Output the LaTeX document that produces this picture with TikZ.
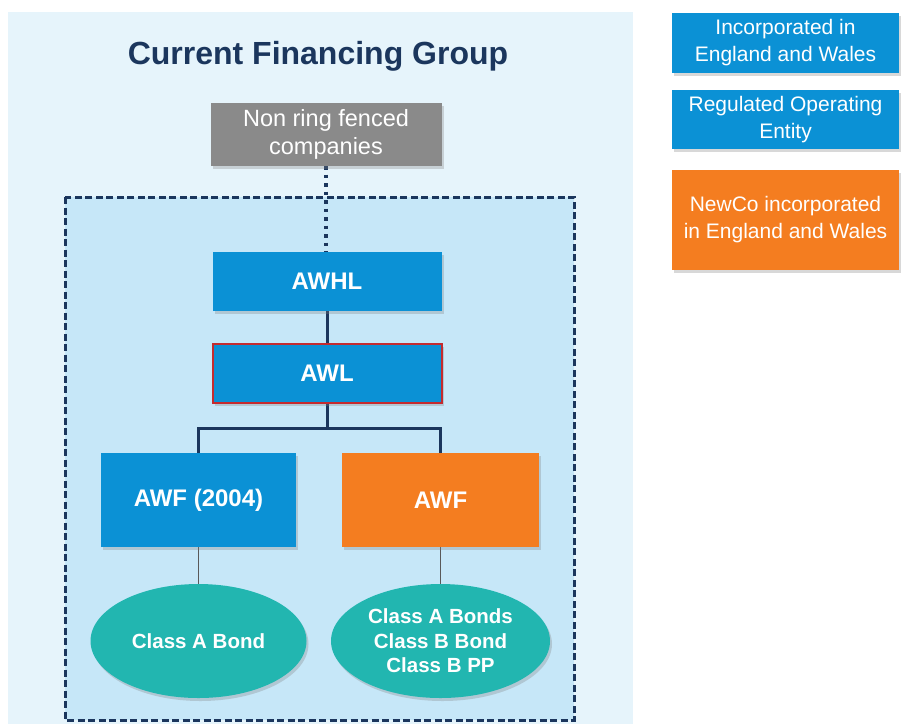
\documentclass[tikz,border=0pt]{standalone}
\usepackage{fontspec}
\setmainfont{Liberation Sans}
\usetikzlibrary{shapes.geometric,shadows}

\definecolor{panelbg}{HTML}{E6F4FB}
\definecolor{ringbg}{HTML}{C6E7F8}
\definecolor{navy}{HTML}{1B365D}
\definecolor{entblue}{HTML}{0B91D5}
\definecolor{neworange}{HTML}{F47D20}
\definecolor{greybox}{HTML}{8A8A8A}
\definecolor{bondteal}{HTML}{22B6B0}
\definecolor{regred}{HTML}{C42B2F}

\pgfdeclarelayer{panels}
\pgfdeclarelayer{links}
\pgfsetlayers{panels,links,main}

\tikzset{
  softshadow/.style={drop shadow={opacity=0.3,shadow xshift=2pt,shadow yshift=-3pt}},
  entity/.style={rectangle,inner sep=0pt,text=white,align=center,softshadow},
  bluebox/.style={entity,fill=entblue,font=\fontsize{24}{28}\selectfont\bfseries},
  orangebox/.style={entity,fill=neworange,font=\fontsize{24}{28}\selectfont\bfseries},
  bond/.style={ellipse,inner sep=0pt,fill=bondteal,text=white,align=center,softshadow,
    font=\fontsize{20.5}{24.5}\selectfont\bfseries},
  keybox/.style={entity,font=\fontsize{21}{27}\selectfont},
  link/.style={navy,line width=3pt},
  dottedlink/.style={navy,line width=3.5pt,dash pattern=on 3.5pt off 5pt},
  thinlink/.style={draw=black!65,line width=0.9pt},
}

\begin{document}
\begin{tikzpicture}[x=1pt,y=-1pt]
  \useasboundingbox (0,0) rectangle (901,724);

  % financing group panel and ring-fenced area
  \begin{pgfonlayer}{panels}
    \fill[white] (0,0) rectangle (901,724);
    \fill[panelbg] (8,12) rectangle (633,724);
    \fill[ringbg] (65,197) rectangle (574,720);
    \draw[navy,line width=3pt,dash pattern=on 7pt off 3.5pt] (65,197) rectangle (574,720);
  \end{pgfonlayer}

  \node[navy,font=\fontsize{32}{36}\selectfont\bfseries] (title) at (318,56) {Current Financing Group};

  % companies
  \node[entity,fill=greybox,minimum width=231pt,minimum height=63pt,
    font=\fontsize{23.5}{28}\selectfont] (nrf) at (326,134.5) {Non ring fenced\\companies};
  \node[bluebox,minimum width=229pt,minimum height=59pt] (awhl) at (327,281.5) {AWHL};
  \node[bluebox,minimum width=229pt,minimum height=59pt,draw=regred,line width=2pt] (awl) at (327,373.5) {AWL};
  \node[bluebox,minimum width=195pt,minimum height=94pt] (awf04) at (198.5,500) {AWF (2004)};
  \node[orangebox,minimum width=197pt,minimum height=94pt] (awf) at (440.5,500) {AWF};

  % bonds
  \node[bond,minimum width=216pt,minimum height=114pt] (bondA) at (198.5,641) {Class A Bond};
  \node[bond,minimum width=219pt,minimum height=114pt] (bondB) at (440.5,641)
    {Class A Bonds\\Class B Bond\\Class B PP};

  % ownership links, kept beneath the boxes
  \begin{pgfonlayer}{links}
    \draw[dottedlink] (nrf.south) -- (nrf.south |- awhl.north);
    \draw[link] (awhl.south) -- (awl.north);
    \draw[link] (awl.south) -- ++(0,24) coordinate (split);
    \draw[link] (awf04.north) |- (split) -| (awf.north);
    \draw[thinlink] (awf04.south) -- (bondA.north);
    \draw[thinlink] (awf.south) -- (bondB.north);
  \end{pgfonlayer}

  % key
  \node[keybox,fill=entblue,minimum width=227pt,minimum height=60pt] (keyinc) at (785.5,43)
    {Incorporated in\\England and Wales};
  \node[keybox,fill=entblue,minimum width=227pt,minimum height=59pt] (keyreg) at (785.5,119.5)
    {Regulated Operating\\Entity};
  \node[keybox,fill=neworange,minimum width=227pt,minimum height=100pt] (keynew) at (785.5,220)
    {NewCo incorporated\\in England and Wales};
\end{tikzpicture}
\end{document}
